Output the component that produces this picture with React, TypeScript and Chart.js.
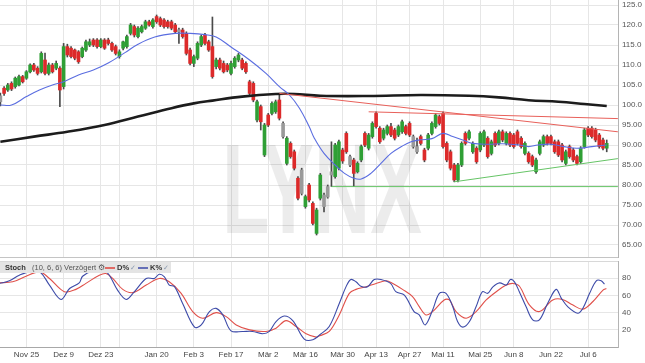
import React, { useEffect, useRef } from "react";
import { Chart, registerables } from "chart.js";
Chart.register(...registerables);

// ---- candle data (trading-day index 0..163) ----
const openP = [100.8,104.2,103.75,105.4,104.6,105,107.1,106.7,108.3,110,109.2,108.3,111.25,107.9,110,109.2,109.2,104.6,114.6,114.2,113.75,113.3,112.1,113.75,115,116.25,116.25,114.6,116.25,116.25,115.4,114.6,112.1,114.2,114.6,117.9,119.6,117.1,118.3,119.2,120.8,119.6,122.1,121.6,121.25,120.8,120.8,120,118.8,118.75,117.9,113.75,110.4,111.7,115,117.5,115.8,114.6,109.6,111.25,110.4,110,107.9,109.6,111.25,111.25,110.4,105.8,105.4,96.25,99.6,87.5,97.5,97.9,98.3,101.25,95.4,85.4,90.4,88.3,81.7,77.9,74.6,80,75.4,67.9,76.7,77.5,77,82.5,82.1,84.2,88.75,92.9,87.1,86.25,83.3,86.25,92.9,89.2,92.1,97.9,94.2,91.7,92.9,94.6,93.75,92.5,93.3,94.6,95.4,92.1,89.6,92.1,88.75,89.2,92.9,94.6,97.1,97.9,90.4,88.3,85,81.25,85,92.9,91.7,88.3,89.2,88.75,90,91.7,87.9,92.9,90.4,93.3,90.4,92.9,92.5,93.3,91.7,87.9,87.9,87.1,83.3,87.9,90,92.1,92.1,90.8,90.8,90,85.4,89.6,88.75,87.1,85.8,89.6,94.2,94.2,93.75,92.5,91.25,89.2];
const highP = [103,104.6,105.4,105.8,107,107.5,107.4,108.6,110.3,110.4,109.6,113.3,113,110.5,110.4,111,109.6,115.4,115.2,114.6,114,113.6,114.5,116.2,116.5,116.6,116.6,116.6,116.6,116.7,115.7,115,113.8,116,117.5,120.4,120,119.6,120,121.2,121.2,121.6,122.5,122,121.6,121.2,121.2,120.4,119.2,119.2,118.3,114.2,112.5,115.8,117.5,117.9,116.2,122,111.7,111.7,111,110.4,111,112.1,112.9,111.7,110.8,106.2,105.8,101.25,100,95.4,97.9,100.8,101.25,102.9,95.8,92.1,90.8,88.75,82.1,84.2,77.5,80.4,75.8,74.2,82.9,78,80,90.8,90.4,91.25,89.2,93.3,87.5,86.7,85.8,90,93.3,92.9,95.8,98.3,94.6,94.2,95,95.4,94.2,95,96.25,95,95.8,92.5,91.7,92.5,89.2,92.9,95.8,97.9,97.5,98.3,90.8,88.75,85.4,85.4,90.8,93.3,93.75,90.8,89.6,93.3,93.75,92.1,91.25,93.3,93.75,93.75,93.3,93.3,92.9,93.75,92.1,90.8,88.3,87.5,86.7,91.25,92.5,92.5,92.5,91.25,91.25,90.4,88.75,90,89.2,87.5,89.6,94.2,94.6,94.6,94.2,92.9,91.7,91.25];
const lowP = [99.8,102.4,103.4,103.6,104.2,104.8,105.5,106.4,108,108.4,107.5,108,107.5,107.5,108,108.8,99.6,104,112,111.8,111.3,110.4,111.8,113.4,114.6,114.6,114.2,114.3,113.9,115,113.4,112.5,111.7,113.8,114.2,117.5,117,116.8,118,118.9,119.7,119.2,120.4,119.6,119.2,119.2,118.8,117.9,115.4,116.7,112.5,110,109.6,111.3,114.6,115,113.4,106.7,109,108.8,108,108.3,107.5,109.2,110.8,108.8,107.9,102.5,100.8,95.8,93.75,87.1,94.6,97.5,97.9,96.25,91.7,85,86.7,83.75,76.25,77.5,74.2,75.8,70,67.5,76.25,73.3,76.7,79.6,81.7,83.75,85.4,87.9,84.6,79.6,83,85.8,89.6,88.75,91.7,94.2,90.4,91.25,92.5,92.1,91.25,92.1,92.9,92.5,92.1,89.2,87.9,90,85.8,88.75,92.5,94.2,95,89.2,85.8,83.75,80.8,80.8,84.6,90,91.25,87.9,85.4,88.3,89.6,86.7,87.5,89.6,90,90.8,90,89.6,89.2,90,89.2,87.5,85.4,84.6,82.9,87.5,89.6,90,90,87.9,87.1,85.8,85,86.7,85.8,85,85.4,89.2,92.1,91.7,90.8,89.2,88.75,88.3];
const closeP = [102.3,102.9,105,104,106.7,107.1,105.8,108.3,110,108.75,107.9,112.9,107.9,110,108.3,110.4,103.75,114.6,112.5,112.1,111.7,110.8,114.2,115.8,115.8,115,114.6,116.25,114.2,115.4,113.75,112.9,113.3,115.8,117.1,120,117.5,119.2,119.6,120.8,120,121.25,120.8,120,119.6,119.6,119.2,118.3,118.3,117.1,112.9,110.4,112.1,115.4,117.1,115.4,113.75,107.1,111.25,109.2,108.3,108.75,110.4,111.7,112.5,109.2,108.3,102.9,101.25,100.8,95.8,95,95,100.4,100.8,96.7,92.1,91.7,87.1,84.2,76.7,83.75,77.1,76.25,70.4,73.75,82.5,74.6,79.6,83.3,90,90.8,86,88.3,85,82.9,85.4,89.6,90,92.5,95.4,94.6,90.8,93.75,94.6,92.5,91.7,94.6,95.8,92.9,92.5,89.6,88.3,90.4,86.25,92.5,95.4,97.5,95.4,89.6,86.25,84.2,81.25,85,90.4,90.4,93.3,90.4,85.8,92.9,93.3,87.1,90.8,90,93.3,91.25,92.9,90,89.6,90.4,89.6,90.4,85.8,85,86.25,90.8,92.1,90.4,90.4,88.3,87.5,86.25,88.3,87.1,86.25,85.4,89.2,93.75,92.5,92.1,91.25,89.6,89.2,90.4];
const grayCandles = [0, 48, 76, 81, 87, 88, 89, 94, 111, 112];

// ---- x axis labels (trading-day index) ----
const tickIdx = [7, 17, 27, 32, 42, 52, 62, 72, 82, 92, 101, 110, 119, 129, 138, 148, 158];
const tickLabels = ["Nov 25", "Dez 9", "Dez 23", "", "Jan 20", "Feb 3", "Feb 17", "Mär 2", "Mär 16", "Mär 30", "Apr 13", "Apr 27", "Mai 11", "Mai 25", "Jun 8", "Jun 22", "Jul 6"];
const priceTicks = [65, 70, 75, 80, 85, 90, 95, 100, 105, 110, 115, 120, 125];
const stochTicks = [20, 40, 60, 80];

// ---- indicator lines, read as [index, value] ----
const maShort = [[0,100],[3,100],[7,102.1],[10.5,103.75],[14,105],[17,105.8],[21,107.5],[25,108.75],[29,110.5],[33.5,113.1],[37,115.2],[41.5,117],[47,117.9],[51,117.9],[55,117.6],[58,117],[62,114.5],[67,111.25],[71.4,107.9],[75,104.6],[77.7,102.5],[80.4,99.2],[83,94.6],[84.4,91.7],[87,87.9],[90,85],[92.5,82.9],[95,81.7],[97,81.5],[99.6,82.9],[102.3,85.4],[105,87.9],[107.8,89.6],[110.4,90.8],[113,91.3],[116,91.6],[119,92.9],[121.6,92.1],[124.3,91.25],[127,90.4],[131,90.2],[135,90.3],[139.5,90],[142,89.6],[144.5,90],[148,90.2],[151.5,89.6],[155,89.2],[159,89.6],[163,90]];
const maLong = [[0,90.8],[9,92.1],[18,93.3],[28,95],[37,97.1],[46,99.2],[52,100.4],[57,101.1],[65,102.1],[74,102.75],[79,102.75],[86,102.3],[99,102.25],[113,102.5],[126,102.3],[134,101.9],[142,101.2],[150,100.8],[157,100.25],[163,99.75]];
const redLineA = [[99, 98.3], [166, 96.6]];
const redLineB = [[75, 102.9], [166, 93.3]];
const greenLineH = [[89, 79.6], [166, 79.6]];
const greenLineS = [[122, 80.8], [166, 86.6]];

// ---- stochastic ----
const stochK = [[-0.3,73.9],[2.4,76.9],[5.1,83.5],[8.7,88.5],[10.9,86.2],[13.2,71.9],[16.3,55.3],[18.6,68],[21.2,74.6],[22.1,82.3],[24.8,88.5],[28,88.5],[29.3,83.5],[31.5,66.1],[33.8,55.3],[36,64.2],[39.2,79.7],[41.4,79.7],[42.7,84.6],[44.1,81.6],[45.4,72],[46.8,70.2],[49,50.6],[52.2,23],[54,25.7],[56.2,41.1],[58,44.9],[59.8,37.3],[62,18.8],[65.1,18.1],[67.8,18.1],[70.5,15.4],[72.3,18.1],[74.1,29.6],[76.3,36.1],[78.6,30.7],[81.7,9.2],[84,8.4],[85.8,14],[88.4,23.8],[91.1,50.6],[92.9,69.9],[94.2,78.5],[95.6,75.8],[96.9,70.7],[98.7,70],[100.5,78.5],[102.3,78.5],[104.9,73.9],[106.3,64.3],[108.6,60.4],[111.2,41.2],[112.6,37.3],[114.2,25.7],[116.2,43],[118,62.4],[119.8,62.4],[121.6,47],[122.9,29.6],[124.3,23.1],[126.1,29.6],[127.9,47],[129.6,64.3],[131,62.4],[132.4,70],[134.2,74.6],[136,72],[137.1,78.5],[138.2,75.8],[139.5,64.3],[141.3,47],[143.1,31.6],[144.9,31.6],[147.1,50.6],[149.4,67],[150.8,56.6],[152.5,47],[155.2,39.3],[156.6,45.1],[158.4,62.4],[160.2,77],[161.5,77],[162.4,73.1]];
const stochD = [[-0.3,74.6],[3.3,75.8],[6.9,82.3],[10.5,87.3],[13.2,79.7],[17.2,64.3],[20.3,67],[23,74],[26.6,83.5],[28.4,85.4],[30.2,79.7],[32.9,67],[35.6,63.2],[39.2,72],[42.7,79.7],[45.4,75.8],[48.6,62.4],[51.7,41.2],[54.4,33.5],[58,40],[60.7,35.3],[63.4,25.7],[67,19.9],[71.4,18.1],[74.1,21.9],[76.8,30.7],[79.5,23.8],[82.2,15.4],[84.9,11.5],[85.8,13],[88.4,18.1],[91.1,37.3],[93.8,62.4],[95.6,67],[98.3,70],[101,73.9],[103.7,77],[105.5,73.9],[108.1,67],[110.8,58.5],[112.6,47],[114.4,37.3],[116.2,41.2],[119.3,54.7],[120.7,54.7],[122.5,41.2],[125.2,33.5],[127.9,41.2],[130.6,54.7],[133.3,64.3],[136,72],[137.8,73.9],[139.5,70.9],[142.2,49],[144.9,41.2],[148.5,54.7],[151.1,55.3],[153.8,49],[156.6,44],[159.3,52.9],[162,66.2],[162.9,68.1]];

const X_MIN = -0.1;
const X_MAX = 166.03;
const FONT = "'Liberation Sans', Arial, sans-serif";
const GRID = "#e6e6e6";

const pts = (arr: number[][]) => arr.map(([x, y]) => ({ x, y }));

const watermark = {
  id: "wm",
  beforeDatasetsDraw(chart: any) {
    const ctx = chart.ctx;
    ctx.save();
    ctx.font = `bold 128px ${FONT}`;
    const w = ctx.measureText("LYNX").width;
    ctx.translate(222, 233);
    ctx.scale(200 / w, 1);
    ctx.fillStyle = "rgba(0,0,0,0.075)";
    ctx.textBaseline = "alphabetic";
    ctx.fillText("LYNX", 0, 0);
    ctx.restore();
  },
};

const stochHeader = {
  id: "sh",
  afterDraw(chart: any) {
    const ctx = chart.ctx;
    const top = chart.chartArea.top;
    ctx.save();
    ctx.strokeStyle = "#d8d8d8";
    ctx.lineWidth = 1;
    ctx.beginPath();
    ctx.moveTo(0, top + 0.5);
    ctx.lineTo(chart.chartArea.right, top + 0.5);
    ctx.stroke();
    ctx.fillStyle = "#e4e4e4";
    ctx.fillRect(0, top + 1, 171, 11);
    const ty = top + 7;
    ctx.textBaseline = "middle";
    ctx.fillStyle = "#333";
    ctx.font = `bold 7.5px ${FONT}`;
    ctx.fillText("Stoch", 5, ty);
    ctx.font = `7.5px ${FONT}`;
    ctx.fillStyle = "#555";
    ctx.fillText("(10, 6, 6) Verzögert ⚙", 32, ty);
    ctx.strokeStyle = "#e0403a";
    ctx.lineWidth = 1.5;
    ctx.beginPath();
    ctx.moveTo(105, ty);
    ctx.lineTo(115, ty);
    ctx.stroke();
    ctx.fillStyle = "#333";
    ctx.font = `bold 7.5px ${FONT}`;
    ctx.fillText("D%", 117, ty);
    ctx.fillStyle = "#8a9ab0";
    ctx.font = `7px ${FONT}`;
    ctx.fillText("✓", 130, ty);
    ctx.strokeStyle = "#3c4aa8";
    ctx.beginPath();
    ctx.moveTo(138, ty);
    ctx.lineTo(148, ty);
    ctx.stroke();
    ctx.fillStyle = "#333";
    ctx.font = `bold 7.5px ${FONT}`;
    ctx.fillText("K%", 150, ty);
    ctx.fillStyle = "#8a9ab0";
    ctx.font = `7px ${FONT}`;
    ctx.fillText("✓", 163, ty);
    ctx.restore();
  },
};

export default function App() {
  const mainRef = useRef<HTMLCanvasElement>(null);
  const stochRef = useRef<HTMLCanvasElement>(null);

  useEffect(() => {
    Chart.defaults.font.family = FONT;
    Chart.defaults.font.size = 8;
    Chart.defaults.color = "#555";

    const idx = openP.map((_, i) => i);
    const bodyData = idx.map((i) => ({ x: i, y: [Math.min(openP[i], closeP[i]), Math.max(openP[i], closeP[i])] }));
    const wickData = idx.map((i) => ({ x: i, y: [lowP[i], highP[i]] }));
    const colors = idx.map((i) =>
      grayCandles.includes(i) ? "#9a9a9a" : closeP[i] >= openP[i] ? "#2f9f35" : "#dc2a2a"
    );

    const xScaleBase = {
      type: "linear",
      min: X_MIN,
      max: X_MAX,
      offset: false,
      afterBuildTicks: (s: any) => {
        s.ticks = tickIdx.map((v) => ({ value: v }));
      },
    };

    const main = new Chart(mainRef.current as HTMLCanvasElement, {
      type: "bar",
      data: {
        datasets: [
          { type: "line", data: pts(redLineA), borderColor: "#e8605a", borderWidth: 1, pointRadius: 0, order: 1 },
          { type: "line", data: pts(redLineB), borderColor: "#e8605a", borderWidth: 1, pointRadius: 0, order: 1 },
          { type: "line", data: pts(greenLineH), borderColor: "#66c466", borderWidth: 1, pointRadius: 0, order: 1 },
          { type: "line", data: pts(greenLineS), borderColor: "#66c466", borderWidth: 1, pointRadius: 0, order: 1 },
          { type: "line", data: pts(maShort), borderColor: "#5a6de0", borderWidth: 1.1, pointRadius: 0, tension: 0.4, order: 2 },
          { type: "line", data: pts(maLong), borderColor: "#1c1c1c", borderWidth: 2.6, pointRadius: 0, tension: 0.4, order: 3 },
          { type: "bar", data: bodyData, backgroundColor: colors, barThickness: 3, grouped: false, minBarLength: 1, borderWidth: 0, order: 10 },
          { type: "bar", data: wickData, backgroundColor: "#4a4a4a", barThickness: 1, grouped: false, borderWidth: 0, order: 11 },
        ] as any,
      },
      options: {
        animation: false,
        responsive: false,
        events: [],
        layout: { autoPadding: false, padding: 0 },
        plugins: { legend: { display: false }, tooltip: { enabled: false } },
        scales: {
          x: {
            ...xScaleBase,
            grid: { color: GRID, drawTicks: false, offset: false },
            border: { display: true, color: "#c4c4c4" },
            ticks: { display: false },
            afterFit: (s: any) => {
              s.height = 1;
              s.paddingLeft = 0;
              s.paddingRight = 0;
            },
          },
          y: {
            position: "right",
            min: 62,
            max: 126.25,
            grid: { color: GRID, drawTicks: false },
            border: { display: true, color: "#b4b4b4" },
            afterBuildTicks: (s: any) => {
              s.ticks = priceTicks.map((v) => ({ value: v }));
            },
            ticks: {
              padding: 4,
              color: "#555",
              font: { size: 8, family: FONT },
              callback: (v: any) => (v >= 100 ? Number(v).toFixed(1) : Number(v).toFixed(2)),
            },
            afterFit: (s: any) => {
              s.width = 27;
              s.paddingTop = 0;
              s.paddingBottom = 0;
            },
          },
        } as any,
      },
      plugins: [watermark],
    } as any);

    const stoch = new Chart(stochRef.current as HTMLCanvasElement, {
      type: "line",
      data: {
        datasets: [
          { data: pts(stochK), borderColor: "#3c4aa8", borderWidth: 1.1, pointRadius: 0, tension: 0.35 },
          { data: pts(stochD), borderColor: "#e0504a", borderWidth: 1.1, pointRadius: 0, tension: 0.35 },
        ],
      },
      options: {
        animation: false,
        responsive: false,
        events: [],
        layout: { autoPadding: false, padding: { top: 3, left: 0, right: 0, bottom: 0 } },
        plugins: { legend: { display: false }, tooltip: { enabled: false } },
        scales: {
          x: {
            ...xScaleBase,
            grid: { color: GRID, drawTicks: false },
            border: { display: true, color: "#a8a8a8" },
            ticks: {
              autoSkip: false,
              maxRotation: 0,
              padding: 3,
              color: "#444",
              font: { size: 8, family: FONT },
              callback: (v: any) => {
                const k = tickIdx.indexOf(Number(v));
                return k >= 0 ? tickLabels[k] : "";
              },
            },
            afterFit: (s: any) => {
              s.height = 16;
              s.paddingLeft = 0;
              s.paddingRight = 0;
            },
          },
          y: {
            position: "right",
            min: 0,
            max: 100,
            grid: { color: GRID, drawTicks: false },
            border: { display: true, color: "#b4b4b4" },
            afterBuildTicks: (s: any) => {
              s.ticks = stochTicks.map((v) => ({ value: v }));
            },
            ticks: { padding: 4, color: "#555", font: { size: 8, family: FONT } },
            afterFit: (s: any) => {
              s.width = 27;
              s.paddingTop = 0;
              s.paddingBottom = 0;
            },
          },
        } as any,
      },
      plugins: [stochHeader],
    } as any);

    return () => {
      main.destroy();
      stoch.destroy();
    };
  }, []);

  return (
    <div style={{ position: "absolute", left: 0, top: 0, width: 645, height: 363, background: "#fff" }}>
      <canvas ref={mainRef} width={645} height={258} style={{ position: "absolute", left: 0, top: 0, width: 645, height: 258 }} />
      <canvas ref={stochRef} width={645} height={105} style={{ position: "absolute", left: 0, top: 258, width: 645, height: 105 }} />
    </div>
  );
}
